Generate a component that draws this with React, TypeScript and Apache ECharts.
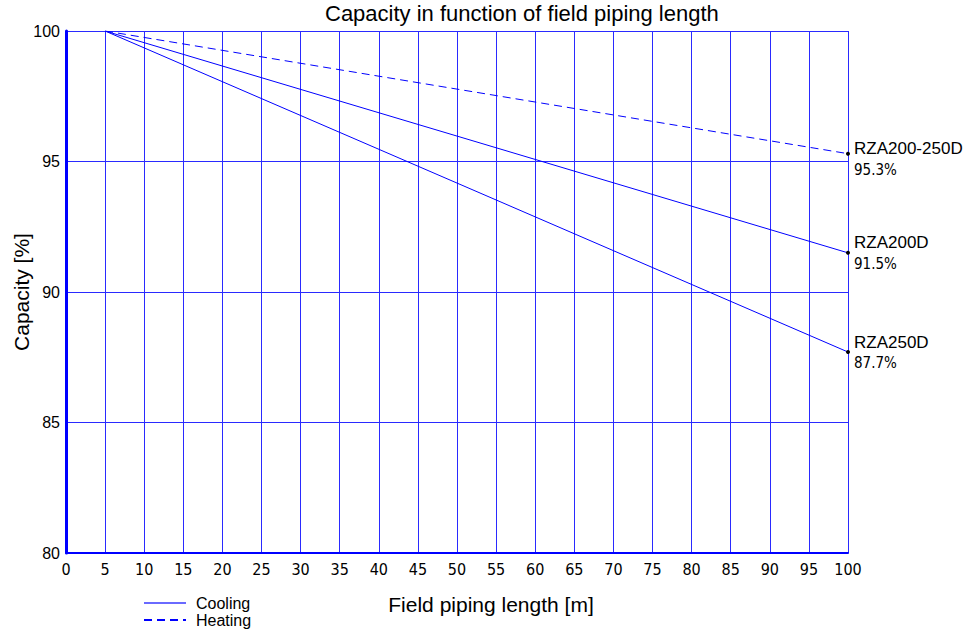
import React, { useEffect, useRef } from "react";
import * as echarts from "echarts";

const xTicks = [0, 5, 10, 15, 20, 25, 30, 35, 40, 45, 50, 55, 60, 65, 70, 75, 80, 85, 90, 95, 100];
const startLength = 5;
const endLength = 100;
const rza200dCooling = [100, 91.5];
const rza250dCooling = [100, 87.7];
const rza200250dHeating = [100, 95.3];
const seriesLabels = ["RZA200D", "RZA250D", "RZA200-250D"];

const FONT = "'Liberation Sans', Arial, sans-serif";
const NARROW = "'DejaVu Sans Condensed', 'Liberation Sans Narrow', 'Liberation Sans', Arial, sans-serif";
const BLUE = "#0000ff";
const GRID = "#2a2aff";

function mkData(vals: number[], name: string, labelOffset: number[], startLabel?: string) {
  return [
    {
      value: [startLength, vals[0]],
      symbol: "none",
      label: startLabel
        ? {
            show: true,
            position: "top",
            distance: 9,
            offset: [5, 0],
            formatter: startLabel,
            color: "#000",
            fontFamily: NARROW,
            fontSize: 14,
          }
        : { show: false },
    },
    {
      value: [endLength, vals[1]],
      symbol: "circle",
      symbolSize: 4,
      itemStyle: { color: "#000" },
      label: {
        show: true,
        position: "right",
        distance: 4,
        offset: labelOffset,
        formatter: "{a|" + name + "}\n{b|" + vals[1].toFixed(1) + "%}",
        rich: {
          a: { fontFamily: FONT, fontSize: 17, color: "#000", lineHeight: 22 },
          b: { fontFamily: NARROW, fontSize: 15, color: "#000", lineHeight: 20 },
        },
      },
    },
  ];
}

export default function App() {
  const ref = useRef<HTMLDivElement>(null);
  useEffect(() => {
    if (!ref.current) return;
    const chart = echarts.init(ref.current, undefined, { renderer: "svg" });
    chart.setOption({
      animation: false,
      backgroundColor: "#fff",
      title: {
        text: "Capacity in function of field piping length",
        left: 325,
        top: 2,
        padding: 0,
        textStyle: { fontFamily: FONT, fontSize: 22, fontWeight: "normal", color: "#000" },
      },
      legend: {
        orient: "vertical",
        left: 143,
        top: 595,
        padding: 0,
        itemWidth: 42,
        itemHeight: 14,
        itemGap: 1,
        itemStyle: { opacity: 0 },
        data: [
          { name: "Cooling", lineStyle: { color: "#6a6aff" } },
          { name: "Heating" },
        ],
        textStyle: { fontFamily: FONT, fontSize: 16, color: "#000", padding: [0, 0, 0, 5] },
      },
      grid: { left: 66, right: 120, top: 31, bottom: 85, outerBoundsMode: "none" },
      xAxis: {
        type: "value",
        min: 0,
        max: 100,
        interval: 5,
        name: "Field piping length [m]",
        nameLocation: "middle",
        nameGap: 41,
        nameTextStyle: { fontFamily: FONT, fontSize: 21, color: "#000", padding: [0, 0, 0, 68] },
        axisLine: { show: true, onZero: false, lineStyle: { color: BLUE, width: 2 } },
        axisTick: { show: false },
        axisLabel: {
          color: "#000",
          fontFamily: NARROW,
          fontSize: 16,
          margin: 8,
          formatter: (v: number) => (xTicks.includes(v) ? String(v) : ""),
        },
        splitLine: { show: true, lineStyle: { color: GRID, width: 1 } },
      },
      yAxis: {
        type: "value",
        min: 80,
        max: 100,
        interval: 5,
        name: "Capacity [%]",
        nameLocation: "middle",
        nameGap: 34,
        nameMoveOverlap: false,
        nameTextStyle: { fontFamily: FONT, fontSize: 21, color: "#000" },
        axisLine: { show: true, lineStyle: { color: BLUE, width: 3 } },
        axisTick: { show: false },
        axisLabel: { color: "#000", fontFamily: FONT, fontSize: 16, margin: 6 },
        splitLine: { show: true, lineStyle: { color: GRID, width: 1 } },
      },
      series: [
        {
          name: "Cooling",
          type: "line",
          data: mkData(rza200dCooling, seriesLabels[0], [0, 0]),
          symbol: "none",
          lineStyle: { color: BLUE, width: 1 },
          itemStyle: { color: "#6a6aff" },
          emphasis: { disabled: true },
        },
        {
          name: "Cooling",
          type: "line",
          data: mkData(rza250dCooling, seriesLabels[1], [0, 0]),
          symbol: "none",
          lineStyle: { color: BLUE, width: 1 },
          itemStyle: { color: "#6a6aff" },
          emphasis: { disabled: true },
        },
        {
          name: "Heating",
          type: "line",
          data: mkData(rza200250dHeating, seriesLabels[2], [0, 5], startLength + "m"),
          symbol: "none",
          lineStyle: { color: BLUE, width: 1, type: [8, 5] },
          itemStyle: { color: BLUE },
          emphasis: { disabled: true },
        },
      ],
    });
    return () => chart.dispose();
  }, []);
  return (
    <div
      ref={ref}
      style={{ position: "absolute", left: 0, top: 0, width: 968, height: 638 }}
    />
  );
}
